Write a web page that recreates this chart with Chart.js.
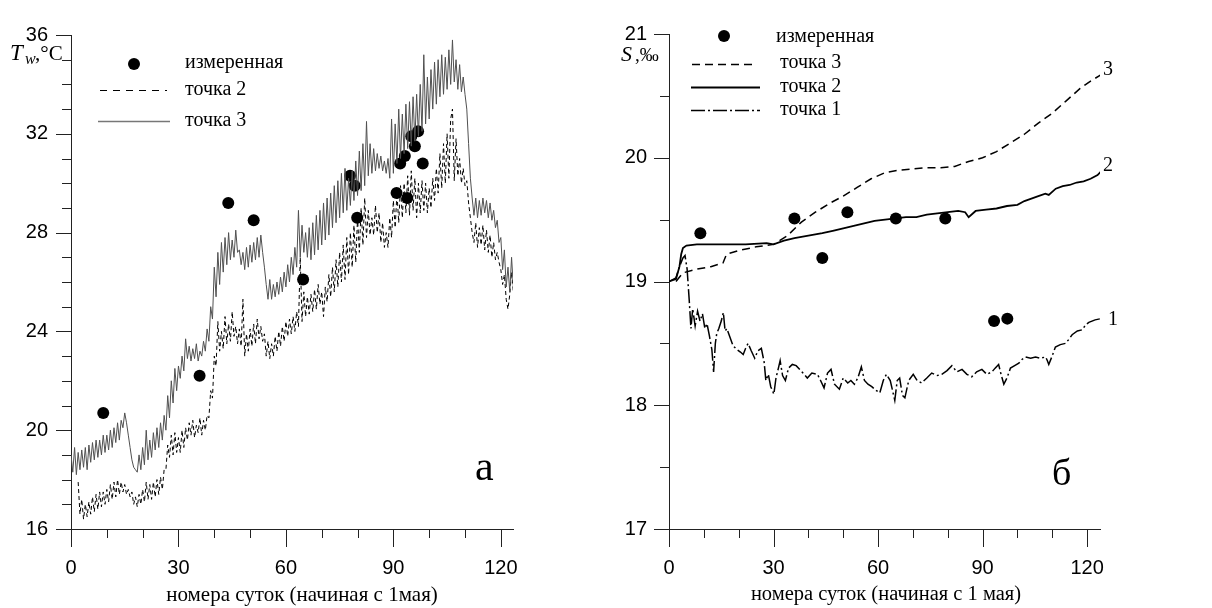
<!DOCTYPE html>
<html lang="ru">
<head>
<meta charset="UTF-8">
<title>Температура и солёность воды</title>
<style>
  body { margin: 0; background: #fff; }
  .panel { position: absolute; top: 0; }
</style>
</head>
<body>
<canvas id="chartT" class="panel" width="600" height="608" style="left:0px"></canvas>
<canvas id="chartS" class="panel" width="612" height="608" style="left:600px"></canvas>

<script src="https://cdn.jsdelivr.net/npm/chart.js"></script>
<script>
// ---- данные: температура (а), значения через каждые полсуток ----
const DAY_STEP = 0.5;

// точка 3 (сплошная)
const tempP3 = [
  19.0, 18.3, 19.3, 18.2, 19.1,
  18.4, 19.2, 18.5, 19.3, 18.4, 19.4,
  18.7, 19.5, 18.8, 19.6, 18.9, 19.6,
  19.0, 19.8, 19.1, 19.8,
  19.2, 20.0, 19.3, 20.1,
  19.5, 20.3, 19.6, 20.4,
  20.1, 20.7, 20.3, 19.8,
  19.3, 18.8, 18.5, 18.4,
  18.3, 19.0, 18.4, 19.3,
  18.6, 20.0, 18.8, 19.6,
  18.9, 19.9, 19.2, 20.1,
  19.3, 20.3, 19.6, 20.6,
  20.0, 21.4, 20.5, 22.0,
  21.1, 22.5, 21.6, 22.6,
  22.1, 23.0, 22.4, 23.7,
  22.9, 23.4, 22.8, 23.3,
  22.9, 23.5, 22.8, 23.2,
  23.0, 23.6, 23.2, 24.1,
  23.6, 25.0, 24.5, 26.6,
  25.4, 27.2, 25.9, 27.6,
  26.4, 27.8, 26.7, 28.0,
  26.9, 27.7, 27.0, 28.1,
  27.2, 27.3, 26.7, 27.2,
  26.5, 27.4, 26.6, 27.5,
  26.8, 27.6, 26.9, 27.8,
  27.0, 27.9, 27.2, 26.6,
  25.9, 25.3, 26.1, 25.3,
  25.9, 25.4, 26.0, 25.5,
  26.2, 25.6, 26.4, 25.8,
  26.7, 26.0, 27.0, 26.3,
  27.4, 26.6, 28.9, 27.0,
  28.3, 27.2, 28.0, 27.0,
  28.2, 26.9, 28.4, 27.1,
  28.7, 27.3, 28.9, 27.5,
  29.2, 27.7, 29.4, 27.9,
  29.6, 28.2, 29.9, 28.4,
  30.1, 28.6, 30.4, 28.8,
  30.6, 28.9, 30.2, 29.1,
  30.5, 29.3, 30.9, 29.5,
  31.3, 29.7, 31.6, 29.9,
  32.5, 30.3, 31.6, 30.4,
  31.4, 30.5, 31.2, 30.6,
  31.1, 30.5, 30.9, 30.4,
  31.0, 30.2, 32.6, 30.4,
  32.4, 30.8, 33.0, 31.0,
  32.8, 31.2, 33.2, 31.4,
  33.3, 31.5, 33.5, 31.7,
  33.6, 31.9, 34.0, 32.1,
  35.2, 32.4, 34.3, 32.6,
  34.6, 33.0, 34.9, 33.2,
  35.0, 33.5, 35.2, 33.6,
  35.1, 33.8, 35.4, 34.0,
  35.8, 34.1, 35.0, 33.8,
  34.8, 33.7, 34.3, 33.6,
  33.0, 31.6, 30.2, 29.4,
  28.7, 29.4, 28.6, 29.3,
  28.7, 29.4, 28.8, 29.3,
  28.6, 29.2, 28.5, 28.9,
  28.2, 28.5, 27.6, 27.8,
  26.5, 27.3, 25.8, 26.6,
  25.6, 27.0, 25.8, 26.2
];

// точка 2 (штриховая)
const tempP2 = [
  null, null, null, null,
  17.9, 16.6, 17.2, 16.4, 17.0,
  16.5, 17.1, 16.6, 17.3,
  16.7, 17.4, 16.8, 17.5,
  16.9, 17.5, 17.0, 17.6,
  17.1, 17.8, 17.2, 17.9,
  17.3, 18.0, 17.4, 17.9,
  17.5, 17.8, 17.4, 17.6,
  17.3, 17.5, 17.0, 17.3,
  16.9, 17.4, 17.0, 17.6,
  17.1, 17.9, 17.2, 17.8,
  17.2, 17.9, 17.3, 18.0,
  17.4, 18.1, 17.6, 18.4,
  18.4, 19.4, 18.9, 19.8,
  19.0, 19.9, 19.1, 19.7,
  19.1, 20.0, 19.3, 20.1,
  19.6, 20.3, 19.8, 20.4,
  19.7, 20.2, 19.9, 20.5,
  19.8, 20.4, 20.0, 20.6,
  20.5, 21.6, 21.3, 23.0,
  22.6, 24.4, 23.2, 24.0,
  23.3, 24.6, 23.5, 24.3,
  23.6, 24.8, 23.8, 24.2,
  23.5, 24.1, 23.4, 25.3,
  23.0, 23.9, 23.2, 24.1,
  23.4, 24.3, 23.5, 24.5,
  23.7, 24.2, 23.6, 23.9,
  23.0, 23.6, 22.9, 23.5,
  23.0, 23.8, 23.2, 24.0,
  23.4, 24.2, 23.6, 24.4,
  23.8, 24.5, 23.9, 24.6,
  24.0, 24.8, 24.2, 27.0,
  24.4, 25.6, 24.6, 25.4,
  24.7, 25.5, 24.8, 25.7,
  24.9, 25.9, 25.1, 25.6,
  24.6, 25.8, 25.2, 26.3,
  25.4, 26.6, 25.6, 26.9,
  25.8, 27.2, 26.0, 27.5,
  26.1, 27.8, 26.3, 28.0,
  26.6, 28.3, 26.8, 28.6,
  27.2, 29.0, 27.5, 29.4,
  27.8, 28.9, 27.9, 28.6,
  27.9, 29.1, 28.0, 28.8,
  27.6, 28.4, 27.4, 28.0,
  27.4, 28.6, 27.8, 29.3,
  28.2, 29.6, 28.4, 29.9,
  28.6, 30.0, 28.8, 30.3,
  28.7, 30.5, 28.9, 30.2,
  28.6, 30.0, 28.8, 30.1,
  28.9, 30.0, 28.8, 29.8,
  29.0, 30.2, 29.3, 30.6,
  29.6, 31.2, 29.8, 31.6,
  30.0, 32.0, 30.2, 32.6,
  33.0, 30.1, 31.8, 30.3,
  31.0, 30.0, 30.6, 29.9,
  30.1, 29.2, 28.6, 28.0,
  27.6, 28.4, 27.4, 28.2,
  27.5, 28.3, 27.3, 28.1,
  27.2, 27.9, 27.0, 27.6,
  26.9, 27.2, 26.8, 26.5,
  25.9, 26.3, 25.3, 24.9,
  25.5, 26.4, 25.6, 26.0
];

// измеренная температура
const measTempDays = [9, 35.9, 43.9, 51, 64.8, 77.9, 79.2, 79.9, 90.9, 91.9, 93.2, 93.9, 95, 96, 96.9, 98.2];
const measTempVals = [20.7, 22.2, 29.2, 28.5, 26.1, 30.3, 29.9, 28.6, 29.6, 30.8, 31.1, 29.4, 31.9, 31.5, 32.1, 30.8];

// ---- данные: солёность (б) ----
const salP3 = [
  [2, 19.0], [4, 19.07], [8, 19.10], [12, 19.12], [15.5, 19.15], [16.5, 19.22], [20, 19.25],
  [25, 19.28], [30, 19.30], [34, 19.37], [38, 19.48], [42, 19.56], [46, 19.63], [50, 19.69],
  [54, 19.76], [58, 19.83], [62, 19.88], [66, 19.90], [70, 19.91], [74, 19.92], [78, 19.92],
  [82, 19.93], [86, 19.97], [90, 20.00], [94, 20.05], [98, 20.12], [102, 20.19], [106, 20.28],
  [110, 20.36], [114, 20.46], [118, 20.56], [121, 20.62], [124, 20.67]
];

const salP2 = [
  [0, 19.0], [2, 19.02], [3, 19.12], [3.5, 19.22], [4, 19.27], [5, 19.29], [8, 19.30],
  [15, 19.30], [22, 19.30], [28, 19.31], [30, 19.30], [33, 19.33], [36, 19.35], [40, 19.37],
  [44, 19.39], [47, 19.41], [50, 19.43], [53, 19.45], [56, 19.47], [59, 19.49], [62, 19.50],
  [65, 19.51], [68, 19.52], [71, 19.52], [74, 19.54], [77, 19.55], [80, 19.56], [83, 19.57],
  [85, 19.56], [86, 19.52], [88, 19.57], [91, 19.58], [94, 19.59], [97, 19.61], [100, 19.62],
  [102, 19.65], [104, 19.67], [106, 19.69], [108, 19.71], [109, 19.70], [111, 19.75],
  [113, 19.77], [115, 19.78], [117, 19.80], [119, 19.81], [121, 19.83], [123, 19.86], [124, 19.89]
];

const salP1 = [
  [0, 19.0], [2, 19.03], [3, 19.12], [4, 19.19], [4.6, 19.21], [5.2, 19.1], [5.8, 18.85],
  [6.3, 18.62], [6.8, 18.78], [7.5, 18.64], [8.2, 18.76], [8.9, 18.68], [9.6, 18.74],
  [10.3, 18.62], [10.9, 18.66], [11.6, 18.56], [12.3, 18.45], [12.8, 18.27], [13.3, 18.5],
  [13.7, 18.58], [14.3, 18.62], [15, 18.68], [15.6, 18.75], [16.1, 18.6], [16.6, 18.62],
  [17.5, 18.55], [18.4, 18.48], [19.5, 18.45], [20.5, 18.43], [21.3, 18.41], [22, 18.46],
  [22.7, 18.5], [23.6, 18.44], [24.6, 18.38], [25.5, 18.44], [26.5, 18.46], [27.3, 18.35],
  [27.8, 18.2], [28.5, 18.25], [29.2, 18.15], [30.1, 18.09], [30.7, 18.22], [31.4, 18.3],
  [31.9, 18.36], [32.6, 18.24], [33.4, 18.2], [34.3, 18.3], [35.4, 18.33], [36.5, 18.32],
  [37.8, 18.28], [38.8, 18.25], [39.7, 18.22], [41, 18.26], [42.6, 18.25], [43.5, 18.2],
  [44.5, 18.14], [45.5, 18.26], [46.5, 18.29], [47.5, 18.17], [48.9, 18.13], [50, 18.22],
  [51.3, 18.18], [52.2, 18.2], [53.2, 18.17], [54.2, 18.22], [55.2, 18.31], [56.1, 18.2],
  [57.1, 18.17], [58.2, 18.15], [59.4, 18.12], [60.5, 18.1], [61.5, 18.2], [62.4, 18.25],
  [63.5, 18.2], [64.8, 18.04], [65.5, 18.2], [66.2, 18.22], [67, 18.08], [67.7, 18.06],
  [68.8, 18.2], [70.1, 18.25], [71.2, 18.2], [72.5, 18.18], [74, 18.22], [75.4, 18.26],
  [77, 18.24], [78.3, 18.25], [79.8, 18.28], [81.2, 18.32], [82.6, 18.27], [84.1, 18.29],
  [85.5, 18.25], [86.9, 18.23], [88.3, 18.27], [89.8, 18.29], [91.2, 18.25], [92.7, 18.27],
  [93.6, 18.3], [94.6, 18.33], [95.3, 18.25], [96.1, 18.17], [97, 18.22], [98, 18.3],
  [99.2, 18.32], [100.4, 18.34], [101.3, 18.37], [102.3, 18.39], [103.8, 18.38],
  [105.2, 18.39], [106.6, 18.38], [108.1, 18.39], [108.6, 18.36], [109, 18.33], [110, 18.4],
  [110.9, 18.47], [112.3, 18.49], [113.8, 18.5], [114.7, 18.53], [115.7, 18.57],
  [117.2, 18.6], [118.6, 18.61], [119.6, 18.65], [120.5, 18.67], [122.3, 18.69], [124, 18.7]
];

const measSalDays = [9, 36, 44, 51.2, 65.1, 79.3, 93.3, 97.1];
const measSalVals = [19.39, 19.51, 19.19, 19.56, 19.51, 19.51, 18.68, 18.70];

// ---- вспомогательное ----
const SANS = 'Liberation Sans, Arial, sans-serif';
const SERIF = 'Liberation Serif, Times New Roman, serif';

function stepSeries(vals) {
  return vals.map((v, i) => ({ x: i * DAY_STEP, y: v }));
}
function pairSeries(pairs) {
  return pairs.map(p => ({ x: p[0], y: p[1] }));
}
function pointSeries(days, vals) {
  return days.map((d, i) => ({ x: d, y: vals[i] }));
}

// мелкие и крупные засечки на осях
const axisTicks = {
  id: 'axisTicks',
  afterDraw(chart, args, o) {
    const { ctx } = chart;
    const x = chart.scales.x, y = chart.scales.y;
    ctx.save();
    ctx.strokeStyle = '#222';
    ctx.lineWidth = 1;
    ctx.beginPath();
    for (let k = 0; k * o.xMinor <= x.max + 1e-9; k++) {
      const v = k * o.xMinor;
      const px = Math.round(x.getPixelForValue(v)) + 0.5;
      const len = Math.abs(v / o.xMajor - Math.round(v / o.xMajor)) < 1e-6 ? 18 : 9;
      ctx.moveTo(px, y.bottom);
      ctx.lineTo(px, y.bottom + len);
    }
    for (let k = 0; y.min + k * o.yMinor <= y.max + 1e-9; k++) {
      const v = y.min + k * o.yMinor;
      const py = Math.round(y.getPixelForValue(v)) + 0.5;
      const len = Math.abs(v / o.yMajor - Math.round(v / o.yMajor)) < 1e-6 ? 15 : 9;
      ctx.moveTo(x.left, py);
      ctx.lineTo(x.left - len, py);
    }
    ctx.stroke();
    ctx.restore();
  }
};

// подписи, легенда, буква панели
const decor = {
  id: 'decor',
  afterDraw(chart, args, o) {
    const { ctx } = chart;
    ctx.save();
    ctx.fillStyle = '#000';
    ctx.textBaseline = 'alphabetic';

    // заголовок оси Y
    o.yTitle.forEach(p => {
      ctx.font = p.font;
      ctx.textAlign = 'left';
      ctx.fillText(p.text, p.x, p.y);
    });

    // заголовок оси X
    ctx.font = o.xTitle.size + 'px ' + SERIF;
    ctx.textAlign = 'center';
    ctx.fillText(o.xTitle.text, o.xTitle.x, o.xTitle.y);

    // буква панели
    ctx.font = o.letter.size + 'px ' + SERIF;
    ctx.textAlign = 'left';
    ctx.fillText(o.letter.text, o.letter.x, o.letter.y);

    // номера кривых
    ctx.font = '20px ' + SERIF;
    (o.curveLabels || []).forEach(c => ctx.fillText(c.text, c.x, c.y));

    // легенда
    o.legend.forEach(it => {
      if (it.kind === 'dot') {
        ctx.beginPath();
        ctx.arc(it.cx, it.cy, 6, 0, Math.PI * 2);
        ctx.fill();
      } else {
        ctx.save();
        ctx.strokeStyle = it.color;
        ctx.lineWidth = it.width;
        ctx.setLineDash(it.dash || []);
        ctx.beginPath();
        ctx.moveTo(it.x1, it.ly + 0.5);
        ctx.lineTo(it.x2, it.ly + 0.5);
        ctx.stroke();
        ctx.restore();
      }
      ctx.font = '20px ' + SERIF;
      ctx.fillText(it.text, it.tx, it.ty);
    });
    ctx.restore();
  }
};

function axisOpts(min, max, step, isX, fitSize, pad, labelFn) {
  return {
    type: 'linear',
    min: min,
    max: max,
    afterFit: s => { if (isX) s.height = fitSize; else s.width = fitSize; },
    ticks: {
      stepSize: step,
      autoSkip: false,
      includeBounds: false,
      maxRotation: 0,
      padding: pad,
      color: '#000',
      font: { family: SANS, size: 20 },
      callback: labelFn
    },
    grid: { display: true, drawOnChartArea: false, drawTicks: false },
    border: { display: true, color: '#222', width: 1 }
  };
}

// ---- панель а: температура ----
new Chart(document.getElementById('chartT'), {
  type: 'scatter',
  data: {
    datasets: [
      {
        label: 'точка 3',
        data: stepSeries(tempP3),
        showLine: true,
        borderColor: '#505050',
        borderWidth: 1,
        pointRadius: 0
      },
      {
        label: 'точка 2',
        data: stepSeries(tempP2),
        showLine: true,
        spanGaps: false,
        borderColor: '#000',
        borderWidth: 1,
        borderDash: [4, 3],
        pointRadius: 0
      },
      {
        label: 'измеренная',
        data: pointSeries(measTempDays, measTempVals),
        pointRadius: 6,
        backgroundColor: '#000',
        borderColor: '#000',
        borderWidth: 0
      }
    ]
  },
  options: {
    responsive: false,
    animation: false,
    devicePixelRatio: 1,
    layout: { padding: { top: 20, right: 87, left: 0, bottom: 0 } },
    scales: {
      x: axisOpts(0, 123.4, 10, true, 79, 27, v => (v % 30 === 0 ? v : '')),
      y: axisOpts(16, 36, 1, false, 71, 23, v => (v % 4 === 0 ? v : ''))
    },
    plugins: {
      legend: { display: false },
      tooltip: { enabled: false },
      axisTicks: { xMinor: 10, xMajor: 30, yMinor: 1, yMajor: 4 },
      decor: {
        yTitle: [
          { text: 'T', x: 10, y: 60, font: 'italic 23px ' + SERIF },
          { text: 'w', x: 25, y: 64, font: 'italic 16px ' + SERIF },
          { text: ',°C', x: 35, y: 60, font: '21px ' + SERIF }
        ],
        xTitle: { text: 'номера суток (начиная с 1мая)', x: 302, y: 601, size: 21 },
        letter: { text: 'а', x: 475, y: 480, size: 42 },
        legend: [
          { kind: 'dot', cx: 134, cy: 64, text: 'измеренная', tx: 185, ty: 68 },
          { kind: 'line', x1: 100, x2: 167, ly: 90, color: '#000', width: 1, dash: [7, 6], text: 'точка 2', tx: 185, ty: 95 },
          { kind: 'line', x1: 98, x2: 170, ly: 121, color: '#777', width: 1.5, text: 'точка 3', tx: 185, ty: 126 }
        ]
      }
    }
  },
  plugins: [axisTicks, decor]
});

// ---- панель б: солёность ----
new Chart(document.getElementById('chartS'), {
  type: 'scatter',
  data: {
    datasets: [
      {
        label: 'точка 3',
        data: pairSeries(salP3),
        showLine: true,
        borderColor: '#000',
        borderWidth: 1.5,
        borderDash: [8, 5],
        pointRadius: 0
      },
      {
        label: 'точка 2',
        data: pairSeries(salP2),
        showLine: true,
        borderColor: '#000',
        borderWidth: 1.8,
        pointRadius: 0
      },
      {
        label: 'точка 1',
        data: pairSeries(salP1),
        showLine: true,
        borderColor: '#000',
        borderWidth: 1.5,
        borderDash: [14, 3, 2, 3],
        pointRadius: 0
      },
      {
        label: 'измеренная',
        data: pointSeries(measSalDays, measSalVals),
        pointRadius: 6,
        backgroundColor: '#000',
        borderColor: '#000',
        borderWidth: 0
      }
    ]
  },
  options: {
    responsive: false,
    animation: false,
    devicePixelRatio: 1,
    layout: { padding: { top: 25, right: 112, left: 0, bottom: 0 } },
    scales: {
      x: axisOpts(0, 123.7, 10, true, 79, 27, v => (v % 30 === 0 ? v : '')),
      y: axisOpts(17, 21, 0.5, false, 69, 22, v => (v % 1 === 0 ? v : ''))
    },
    plugins: {
      legend: { display: false },
      tooltip: { enabled: false },
      axisTicks: { xMinor: 10, xMajor: 30, yMinor: 0.5, yMajor: 1 },
      decor: {
        yTitle: [
          { text: 'S', x: 21, y: 61, font: 'italic 22px ' + SERIF },
          { text: ',‰', x: 35, y: 61, font: '19px ' + SERIF }
        ],
        xTitle: { text: 'номера суток (начиная с 1 мая)', x: 286, y: 600, size: 20.5 },
        letter: { text: 'б', x: 452, y: 485, size: 38 },
        curveLabels: [
          { text: '3', x: 503, y: 75 },
          { text: '2', x: 503, y: 171 },
          { text: '1', x: 508, y: 325 }
        ],
        legend: [
          { kind: 'dot', cx: 124, cy: 36, text: 'измеренная', tx: 176, ty: 42 },
          { kind: 'line', x1: 92, x2: 157, ly: 64, color: '#000', width: 1.5, dash: [8, 5], text: 'точка 3', tx: 180, ty: 68 },
          { kind: 'line', x1: 91, x2: 160, ly: 87, color: '#000', width: 2, text: 'точка 2', tx: 180, ty: 92 },
          { kind: 'line', x1: 91, x2: 160, ly: 110, color: '#000', width: 1.5, dash: [14, 3, 2, 3], text: 'точка 1', tx: 180, ty: 115 }
        ]
      }
    }
  },
  plugins: [axisTicks, decor]
});
</script>
</body>
</html>
